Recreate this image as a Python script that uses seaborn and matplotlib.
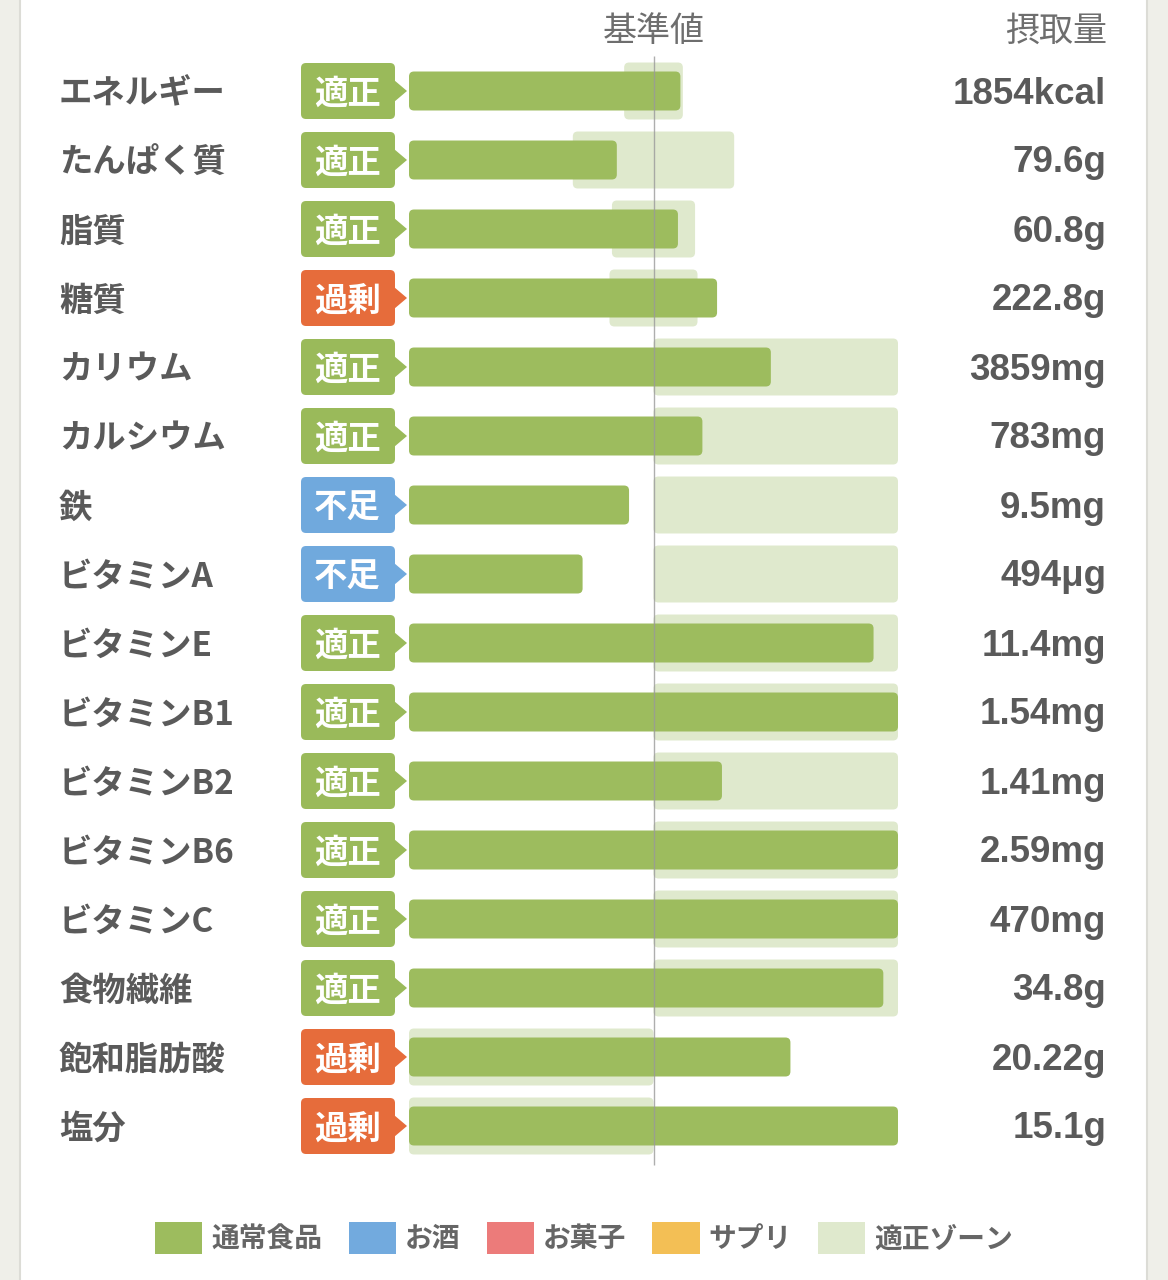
import numpy as np
import matplotlib
matplotlib.use('Agg')
import matplotlib.pyplot as plt
from matplotlib.patches import FancyBboxPatch, Polygon, Rectangle, Patch
import seaborn as sns

# nutrients, top to bottom
nutrients = ['エネルギー', 'たんぱく質', '脂質', '糖質', 'カリウム', 'カルシウム', '鉄',
             'ビタミンA', 'ビタミンE', 'ビタミンB1', 'ビタミンB2', 'ビタミンB6',
             'ビタミンC', '食物繊維', '飽和脂肪酸', '塩分']
status = ['適正', '適正', '適正', '過剰', '適正', '適正', '不足', '不足',
          '適正', '適正', '適正', '適正', '適正', '適正', '過剰', '過剰']
# intake relative to the standard value (1.0 = 基準値, chart capped at 2.0)
intake_ratio = [1.11, 0.85, 1.10, 1.26, 1.48, 1.20, 0.90, 0.71,
                1.90, 2.00, 1.28, 2.00, 2.00, 1.94, 1.56, 2.00]
zone_low = [0.88, 0.67, 0.83, 0.82, 1.0, 1.0, 1.0, 1.0,
            1.0, 1.0, 1.0, 1.0, 1.0, 1.0, 0.0, 0.0]
zone_high = [1.12, 1.33, 1.17, 1.18, 2.0, 2.0, 2.0, 2.0,
             2.0, 2.0, 2.0, 2.0, 2.0, 2.0, 1.0, 1.0]
amounts = ['1854kcal', '79.6g', '60.8g', '222.8g', '3859mg', '783mg', '9.5mg', '494μg',
           '11.4mg', '1.54mg', '1.41mg', '2.59mg', '470mg', '34.8g', '20.22g', '15.1g']

legend_labels = ['通常食品', 'お酒', 'お菓子', 'サプリ', '適正ゾーン']
legend_colors = ['#9dbc5e', '#72aade', '#ec7b7a', '#f3bf55', '#dfe9cd']

GREEN = '#9dbc5e'
ZONE = '#dfe9cd'
badge_colors = {'適正': '#9aba5a', '過剰': '#e66c3b', '不足': '#70a9dd'}
TEXT = '#5a5a5a'

W, H = 1168, 1280
PX_X, PX_Y = 244.5, 69.0   # pixels per data unit
X0, Y0 = 409, 91           # pixel of x=0 / first row
TXT_DY = 3 / PX_Y          # nudge text down so glyphs sit centred on the row


def dx(px):
    return (px - X0) / PX_X


def dy(py):
    return (py - Y0) / PX_Y


sns.set_theme(style='white')
plt.rcParams['font.family'] = ['Noto Sans CJK JP', 'DejaVu Sans']

fig = plt.figure(figsize=(W / 100, H / 100), dpi=100)
fig.patch.set_facecolor('#efefe9')
fig.add_artist(Rectangle((20 / W, -0.01), 1127 / W, 1.02, transform=fig.transFigure,
                         facecolor='white', edgecolor='#dcdcd6', lw=1.5, zorder=0))

ax = fig.add_axes([0, 0, 1, 1])
ax.patch.set_alpha(0)

# intake bars
sns.barplot(x=intake_ratio, y=nutrients, orient='h', color=GREEN, saturation=1,
            width=0.565, ax=ax)
# appropriate zones
ax.barh(np.arange(len(nutrients)), np.array(zone_high) - np.array(zone_low),
        left=zone_low, height=0.826, color=ZONE)

n_intake = len(nutrients)
bars = list(ax.patches)
for k, p in enumerate(bars):
    x, y, w, h = p.get_x(), p.get_y(), p.get_width(), p.get_height()
    col = p.get_facecolor()
    p.remove()
    rb = FancyBboxPatch((x, y), w, h,
                        boxstyle=f'round,pad=0,rounding_size={5 / PX_X}',
                        mutation_aspect=PX_X / PX_Y, facecolor=col, edgecolor='none',
                        zorder=2 if k < n_intake else 1)
    ax.add_patch(rb)

# badges
for i, s in enumerate(status):
    c = badge_colors[s]
    ax.add_patch(FancyBboxPatch((dx(301), i - 28 / PX_Y), dx(395) - dx(301), 56 / PX_Y,
                                boxstyle=f'round,pad=0,rounding_size={5 / PX_X}',
                                mutation_aspect=PX_X / PX_Y, facecolor=c,
                                edgecolor='none', zorder=2))
    ax.add_patch(Polygon([(dx(394), i - 11 / PX_Y), (dx(407), i), (dx(394), i + 11 / PX_Y)],
                         closed=True, facecolor=c, edgecolor='none', zorder=2))
    ax.text(dx(347), i + TXT_DY, s, color='white', fontsize=24, fontweight='bold',
            ha='center', va='center', zorder=3)

# nutrient names and amounts
for i, (name, amt) in enumerate(zip(nutrients, amounts)):
    ax.text(dx(59), i + TXT_DY, name, color=TEXT, fontsize=24, fontweight='bold',
            ha='left', va='center')
    ax.text(dx(1106), i + TXT_DY, amt, color=TEXT, fontsize=26.5, fontweight='bold',
            ha='right', va='center', family=['Liberation Sans', 'Noto Sans CJK JP'])

# standard value line and headers
ax.vlines(1.0, dy(56), dy(1165), color='#9a9a9a', lw=1, alpha=0.8, zorder=4)
ax.text(1.0, dy(28) + TXT_DY, '基準値', color='#6e6e6e', fontsize=24.5,
        ha='center', va='center')
ax.text(dx(1107), dy(28) + TXT_DY, '摂取量', color='#6e6e6e', fontsize=24.5,
        ha='right', va='center')

ax.set_xlim(dx(0), dx(W))
ax.set_ylim(dy(H), dy(0))
ax.axis('off')

handles = [Patch(facecolor=c, edgecolor='none', label=l)
           for c, l in zip(legend_colors, legend_labels)]
fig.legend(handles=handles, loc='center', bbox_to_anchor=(584 / W, 1 - 1238 / H),
           ncol=5, frameon=False, prop={'weight': 'bold', 'size': 20},
           handlelength=1.7, handleheight=1.37, handletextpad=0.32,
           columnspacing=0.95, labelcolor='#666666')

fig.savefig('out.png', dpi=100, facecolor=fig.get_facecolor())
